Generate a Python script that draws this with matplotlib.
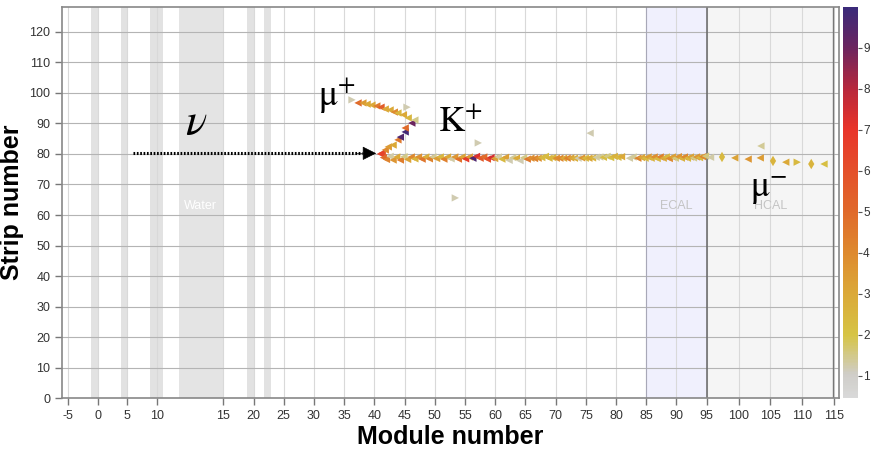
import numpy as np
import matplotlib
matplotlib.use("Agg")
import matplotlib.pyplot as plt
from matplotlib.colors import LinearSegmentedColormap, Normalize
from matplotlib.cm import ScalarMappable

plt.rcParams['font.family'] = ['Liberation Sans', 'DejaVu Sans']
plt.rcParams['mathtext.fontset'] = 'stix'
plt.rcParams['axes.unicode_minus'] = False

# hits: module, strip, deposited energy, marker orientation
hit_module = [
    # mu+ track
    36.3, 37.3, 38.1, 38.8, 39.6, 40.4, 41.1, 41.8, 42.6, 43.3, 43.9, 44.8, 45.6,
    # K+ track
    41.3, 41.8, 42.3, 43.1, 43.9, 44.3, 45.1, 45.1, 46.2, 46.7,
    # mu- track
    41.0, 41.5, 42.0, 42.6, 43.1, 43.7, 44.3, 44.9, 45.5, 46.1, 46.7, 47.3, 47.9,
    48.5, 49.1, 49.7, 50.3, 50.9, 51.5, 52.1, 52.7, 53.3, 53.9, 54.5, 55.1, 55.7,
    56.3, 56.9, 57.5, 58.1, 58.7, 59.3, 59.9, 60.5, 61.1, 61.7, 62.3, 62.9, 63.5,
    64.1, 64.7, 65.3, 65.9, 66.5, 67.1, 67.7, 68.3, 68.9, 69.5, 70.1, 70.7, 71.3,
    71.9, 72.5, 73.1, 73.7, 74.3, 74.9, 75.5, 76.1, 76.7, 77.3, 77.9, 78.5, 79.1,
    79.7, 80.3, 80.9, 82.2, 82.8, 83.6, 84.2, 84.8,
    85.3, 85.8, 86.3, 86.8, 87.3, 87.8, 88.3, 88.8, 89.3, 89.8, 90.3, 90.8, 91.3,
    91.8, 92.3, 92.8, 93.3, 93.8, 94.3, 94.8, 95.6,
    97.4, 99.4, 101.5, 103.4, 105.4, 107.4, 109.2, 111.4, 113.4,
    # isolated hits
    45.4, 57.2, 53.4, 75.7, 103.5,
]
hit_strip = [
    97.7, 96.7, 96.7, 96.3, 96.0, 95.7, 95.3, 94.7, 94.4, 93.7, 93.4, 92.8, 91.8,
    80.3, 81.3, 82.3, 82.9, 84.6, 85.5, 87.2, 88.5, 90.1, 91.1,
    80.0, 78.8, 78.2, 79.2, 78.0, 79.0, 78.0, 79.1, 78.2, 79.0, 78.4, 79.0, 78.3,
    79.0, 78.4, 79.0, 78.5, 79.0, 78.3, 79.0, 78.4, 79.0, 78.3, 79.0, 78.4, 79.0,
    78.6, 79.2, 78.6, 79.0, 78.3, 78.8, 78.5, 79.0, 78.3, 78.9, 77.9, 78.8, 78.6,
    77.8, 78.8, 78.3, 78.6, 78.5, 78.6, 78.8, 79.2, 78.6, 78.8, 78.6, 78.6, 78.6,
    78.6, 78.7, 78.6, 78.6, 78.7, 78.6, 78.6, 78.7, 78.9, 79.0, 78.9, 79.2, 78.8,
    79.2, 78.9, 79.1, 78.6, 79.0, 78.6, 78.8, 78.6,
    79.0, 78.6, 79.0, 78.5, 79.0, 78.6, 79.0, 78.5, 79.0, 78.6, 79.1, 78.6, 79.0,
    78.6, 79.0, 78.7, 79.0, 78.8, 79.1, 79.3, 78.9,
    79.0, 78.7, 78.3, 78.7, 77.7, 77.3, 77.3, 76.7, 76.7,
    95.3, 83.6, 65.6, 86.8, 82.6,
]
hit_energy = [
    1.2, 5.0, 3.5, 3.0, 3.0, 4.5, 5.5, 3.0, 3.0, 4.0, 2.5, 3.0, 2.5,
    6.0, 4.0, 3.5, 3.0, 4.5, 9.5, 9.8, 5.0, 9.0, 1.5,
    6.5, 5.0, 4.2, 1.3, 3.6, 3.0, 4.4, 1.5, 3.2, 4.0, 2.6, 3.8, 4.6,
    2.8, 4.2, 1.4, 3.4, 2.5, 4.3, 3.0, 1.3, 3.6, 4.8, 3.1, 6.8, 3.4,
    9.6, 7.3, 5.6, 4.9, 6.0, 7.4, 3.2, 1.3, 2.4, 3.3, 1.2, 1.4, 3.0,
    1.2, 1.5, 4.6, 3.8, 4.2, 3.7, 2.4, 2.3, 2.6, 2.5, 3.9, 4.1, 3.0,
    4.3, 3.2, 2.8, 1.2, 3.6, 2.4, 3.1, 2.6, 1.3, 1.4, 2.3, 1.5, 2.2,
    2.7, 2.4, 3.0, 1.3, 1.4, 4.2, 3.1, 2.4,
    3.5, 2.6, 3.9, 2.4, 4.3, 3.0, 2.5, 4.0, 3.3, 1.6, 3.7, 2.7, 4.1,
    2.4, 3.2, 1.5, 3.6, 2.5, 4.0, 1.6, 1.3,
    2.4, 3.2, 3.6, 3.4, 2.6, 3.0, 2.4, 2.6, 2.2,
    1.2, 1.2, 1.2, 1.2, 1.4,
]
hit_shape = (
    ['>'] + ['<'] * 12
    + ['<'] * 10
    + ['<'] * 94
    + ['d', '<', '<', '<', 'd', '<', '>', 'd', '<']
    + ['>', '>', '>', '<', '<']
)

x_ticks = [-5, 0, 5, 10, 15, 20, 25, 30, 35, 40, 45, 50, 55, 60, 65, 70, 75,
           80, 85, 90, 95, 100, 105, 110, 115]
y_ticks = list(range(0, 121, 10))
cbar_ticks = [1, 2, 3, 4, 5, 6, 7, 8, 9]

# inactive / passive detector planes (module ranges)
plane_bands = [(-1.1, 0.0), (3.9, 5.0), (8.9, 11.0), (18.9, 20.0), (21.8, 22.9)]
water_band = (12.1, 15.0)
ecal_band = (85.0, 95.0)
hcal_band = (95.0, 114.8)

# module axis is stretched over the water target and the HCAL
XB = [-106.0, -6.0, 11.0, 15.0, 95.0, 115.8, 215.8]
PB = [-530.0, 62.0, 162.7, 223.3, 706.7, 839.3, 1476.3]


def fwd(x):
    return np.interp(np.asarray(x, float), XB, PB)


def inv(p):
    return np.interp(np.asarray(p, float), PB, XB)


energy_cmap = LinearSegmentedColormap.from_list('energy', [
    (0.00, '#d9d9d9'), (0.06, '#cfcdc8'), (0.16, '#d6c445'), (0.27, '#dba838'),
    (0.37, '#de8a2f'), (0.48, '#e0692b'), (0.58, '#e4502a'), (0.69, '#e8342a'),
    (0.79, '#b8283c'), (0.90, '#6a2560'), (1.00, '#3a2a7a')])
norm = Normalize(vmin=0.45, vmax=10.0)

fig = plt.figure(figsize=(8.71, 4.5), dpi=100)
ax = fig.add_axes([62 / 871, 51.7 / 450, 777.3 / 871, 391.6 / 450])
ax.set_xscale('function', functions=(fwd, inv))
ax.set_xlim(-6, 115.8)
ax.set_ylim(0, 128.2)

for a, b in plane_bands:
    ax.axvspan(a, b, color='#e2e2e2', lw=0, zorder=0.5)
ax.axvspan(*water_band, color='#e4e4e4', lw=0, zorder=0.5)
ax.axvspan(*ecal_band, color='#f0f0fd', lw=0, zorder=0.5)
ax.axvspan(*hcal_band, color='#f5f5f5', lw=0, zorder=0.5)
ax.axvline(ecal_band[0], color='#a8a8b8', lw=0.8, zorder=1.6)
ax.axvline(ecal_band[1], color='#666666', lw=1.1, zorder=1.6)
ax.axvline(hcal_band[1], color='#777777', lw=1.0, zorder=1.6)

ax.text(13.5, 63, 'Water', color='white', fontsize=9, ha='center', va='center')
ax.text(90.0, 63, 'ECAL', color='#c4c4c4', fontsize=9, ha='center', va='center')
ax.text(105.0, 63, 'HCAL', color='#c4c4c4', fontsize=9, ha='center', va='center')

ax.set_xticks(x_ticks)
ax.set_yticks(y_ticks)
ax.xaxis.set_minor_locator(plt.NullLocator())
ax.grid(axis='x', color='#d9d9d9', lw=0.8)
ax.grid(axis='y', color='#b4b4b4', lw=0.8)
ax.tick_params(axis='both', direction='out', length=5, width=1, color='#777777',
               labelcolor='#333333', labelsize=9)
for s in ax.spines.values():
    s.set_color('#888888')
    s.set_linewidth(1.2)

ax.set_xlabel('Module number', fontsize=18, fontweight='bold', labelpad=2)
ax.set_ylabel('Strip number', fontsize=18, fontweight='bold', labelpad=4)

mod = np.array(hit_module)
strip = np.array(hit_strip)
energy = np.array(hit_energy)
shape = np.array(hit_shape)
for m in ['<', '>', 'd']:
    sel = shape == m
    ax.scatter(mod[sel], strip[sel], c=energy[sel], cmap=energy_cmap, norm=norm,
               marker=m, s=28, linewidths=0, zorder=3)

# incoming neutrino
ax.plot([6.0, 38.0], [80.2, 80.2], color='black', lw=2.2,
        linestyle=(0, (0.55, 0.55)), zorder=4)
ax.annotate('', xy=(40.3, 80.2), xytext=(37.0, 80.2),
            arrowprops=dict(arrowstyle='-|>', color='black', lw=0.5,
                            mutation_scale=22, shrinkA=0, shrinkB=0), zorder=4)

ax.text(13.2, 90.0, r'$\nu$', fontsize=32, ha='center', va='center', zorder=5)
ax.text(33.8, 99.0, r'$\mathrm{\mu}^{+}$', fontsize=26, ha='center', va='center', zorder=5)
ax.text(54.2, 90.5, r'$\mathrm{K}^{+}$', fontsize=26, ha='center', va='center', zorder=5)
ax.text(104.7, 68.5, r'$\mathrm{\mu}^{-}$', fontsize=26, ha='center', va='center', zorder=5)

cax = fig.add_axes([842.7 / 871, 51.7 / 450, 15.6 / 871, 391.6 / 450])
cb = fig.colorbar(ScalarMappable(norm=norm, cmap=energy_cmap), cax=cax)
cb.outline.set_visible(False)
cb.set_ticks(cbar_ticks)
cax.tick_params(length=3, width=0.8, color='#555555', labelcolor='#333333',
                labelsize=8.5, pad=0.5)
fig.text(0.9995, 0.58, 'MeV', rotation=90, fontsize=10, ha='left', va='center',
         color='#333333')

fig.savefig('out.png', dpi=100)
